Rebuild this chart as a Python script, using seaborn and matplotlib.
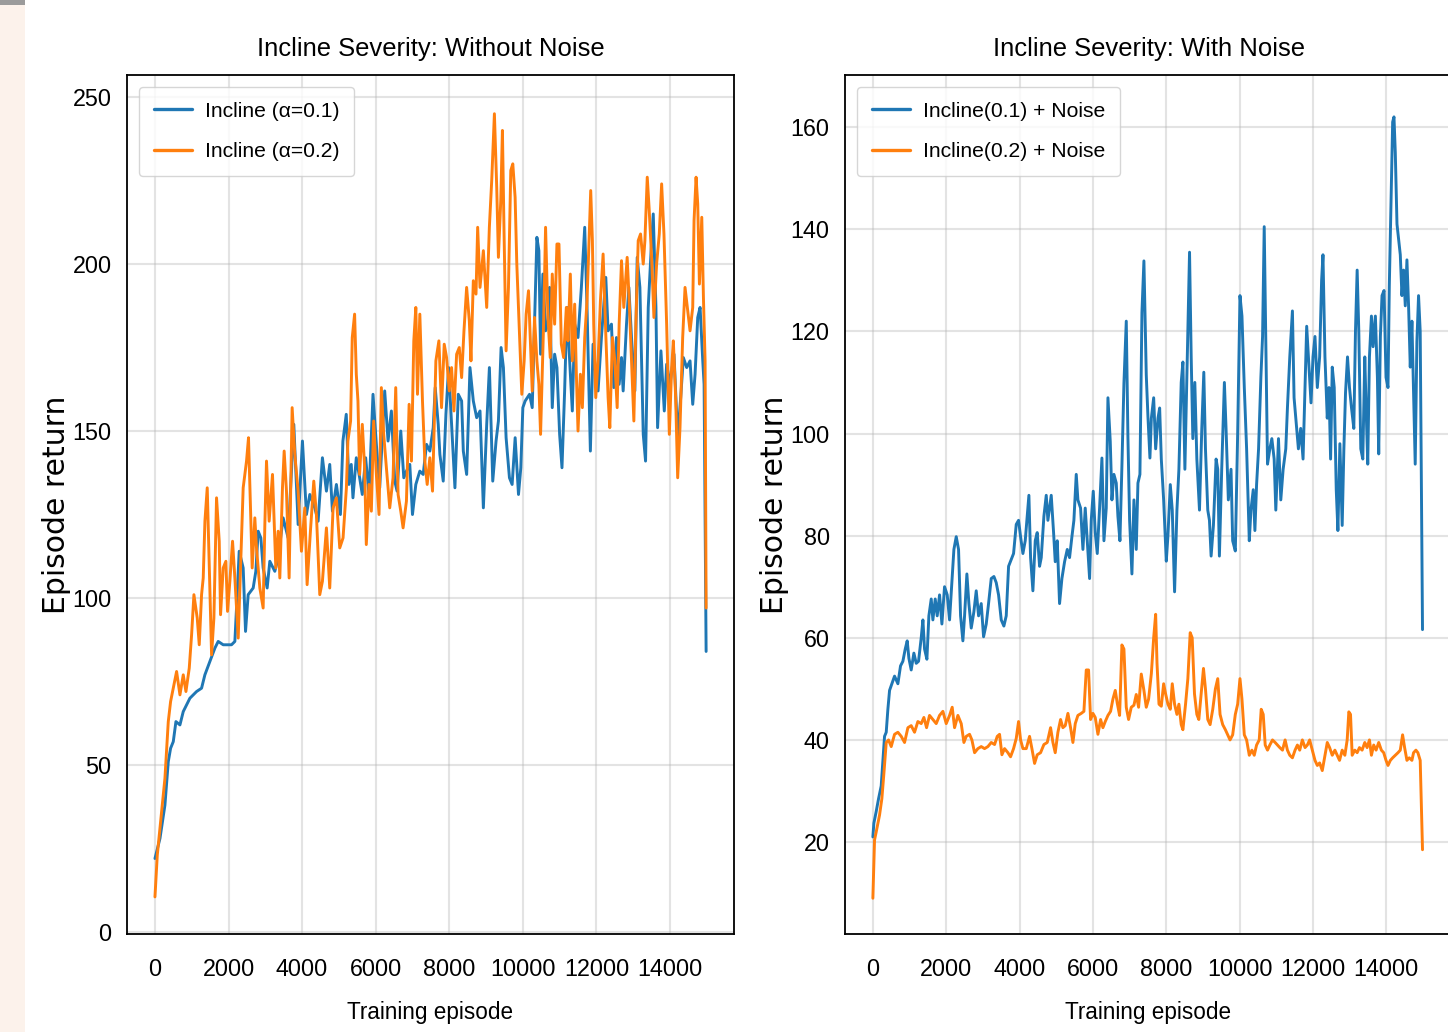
import matplotlib
matplotlib.use("Agg")
import matplotlib.pyplot as plt
from matplotlib import font_manager as fm
import seaborn as sns
import pandas as pd
from matplotlib.patches import Rectangle

# ---------------- data ----------------
left_blue_ep = [0, 136, 271, 362, 425, 498, 570, 679, 769, 950, 1131, 1267, 1357, 1493, 1629, 1719, 1855, 2081, 2172, 2235, 2290, 2398, 2462, 2534, 2670, 2742, 2806, 2878, 2941, 3050, 3122, 3258, 3349, 3484, 3620, 3774, 3892, 4009, 4118, 4209, 4344, 4435, 4552, 4661, 4751, 4824, 4932, 5041,
                5109, 5200, 5273, 5336, 5382, 5473, 5564, 5636, 5727, 5818, 5927, 6018, 6109, 6245, 6336, 6427, 6518, 6582, 6682, 6764, 6836, 6927, 7000, 7091, 7200, 7291, 7382, 7473, 7564, 7618, 7700, 7745, 7836, 7909, 7982, 8045, 8154, 8245, 8336, 8382, 8473, 8563, 8654, 8745, 8836, 8927, 9018, 9091, 9182, 9272, 9336, 9409, 9472, 9545, 9636, 9709, 9791, 9882, 9945, 10000, 10063,
                10182, 10255, 10318, 10382, 10436, 10482, 10545, 10618, 10682, 10727, 10800, 10864, 10927, 11000, 11064, 11136, 11200, 11273, 11345, 11409, 11500, 11591, 11682, 11745, 11836, 11909, 11982, 12045, 12136, 12255, 12318, 12409, 12473, 12545, 12618, 12682, 12727, 12818, 12882, 12954, 13045, 13109, 13182, 13273, 13336, 13409, 13482, 13545, 13618, 13663, 13754, 13845, 13909, 14000, 14109, 14209, 14291, 14363, 14454, 14545, 14618, 14682, 14754, 14818, 14891, 14927, 14982]
left_blue_val = [22, 28, 38, 51, 55, 57, 63, 62, 66, 70, 72, 73, 77, 81, 85, 87, 86, 86, 87, 101, 114, 109, 90, 101, 103, 108, 120, 118, 109, 103, 111, 108, 112, 124, 118, 152, 122, 147, 125, 131, 127, 123, 142, 132, 140, 126, 134, 125,
                 147, 155, 134, 140, 130, 142, 136, 131, 142, 131, 161, 146, 133, 162, 147, 156, 135, 132, 150, 136, 138, 140, 125, 134, 138, 137, 146, 144, 151, 163, 152, 143, 135, 155, 169, 156, 133, 161, 159, 144, 137, 169, 159, 154, 156, 127, 152, 169, 135, 147, 153, 175, 169, 148, 136, 134, 148, 131, 139, 157, 159,
                 161, 157, 182, 208, 204, 173, 197, 180, 182, 193, 157, 173, 169, 149, 139, 162, 187, 171, 156, 182, 178, 193, 211, 187, 144, 176, 167, 162, 178, 196, 180, 182, 163, 178, 164, 172, 162, 182, 193, 178, 162, 202, 193, 149, 141, 187, 203, 215, 187, 151, 174, 156, 170, 164, 173, 148, 160, 172, 169, 171, 158, 167, 184, 187, 171, 164, 84]

left_orange_ep = [0, 63, 181, 271, 362, 425, 498, 588, 679, 769, 842, 932, 996, 1059, 1149, 1204, 1267, 1312, 1358, 1421, 1475, 1539, 1602, 1674, 1747, 1783, 1855, 1928, 1973, 2036, 2109, 2172, 2263, 2326, 2398, 2489, 2543, 2597, 2643, 2715, 2760, 2851, 2941, 2987, 3032, 3104, 3195, 3285, 3349, 3394, 3466, 3512, 3575, 3647, 3729, 3801, 3892, 3982, 4073, 4136, 4226, 4317, 4389, 4480, 4552, 4661, 4751, 4842, 4932, 5023, 5113, 5204,
                  5245, 5318, 5363, 5427, 5473, 5518, 5563, 5636, 5700, 5745, 5818, 5882, 5945, 6018, 6091, 6154, 6218, 6291, 6382, 6472, 6545, 6609, 6682, 6745, 6836, 6909, 6972, 7036, 7091, 7136, 7200, 7272, 7336, 7400, 7472, 7545, 7636, 7718, 7790, 7863, 7927, 8000, 8063, 8127, 8200, 8272, 8336, 8400, 8472, 8545, 8590, 8654, 8727, 8772, 8836, 8927, 9018, 9090, 9154, 9227, 9290, 9336, 9400, 9445, 9490, 9545, 9609, 9672, 9727, 9790, 9836, 9909, 9972, 10036, 10090, 10154,
                  10255, 10318, 10382, 10436, 10482, 10564, 10618, 10682, 10745, 10800, 10864, 10927, 10982, 11046, 11109, 11182, 11227, 11291, 11345, 11409, 11455, 11500, 11564, 11618, 11682, 11745, 11800, 11845, 11891, 11927, 11982, 12045, 12109, 12182, 12255, 12318, 12364, 12436, 12500, 12564, 12618, 12682, 12745, 12836, 12891, 12954, 13018, 13073, 13136, 13200, 13273, 13318, 13382, 13436, 13500, 13563, 13636, 13709, 13773, 13836, 13909, 13982, 14045, 14091, 14154, 14209, 14272, 14345, 14409, 14472, 14545, 14618, 14654, 14709, 14754, 14800, 14864, 14909, 14954, 14982]
left_orange_val = [10.5, 23, 36, 46, 63, 69, 73, 78, 71, 77, 72, 79, 89, 101, 94, 86, 101, 106, 123, 133, 110, 83, 94, 130, 117, 95, 109, 111, 96, 105, 117, 106, 88, 109, 133, 141, 148, 127, 109, 124, 115, 103, 97, 122, 141, 123, 137, 109, 120, 106, 133, 144, 132, 106, 157, 143, 132, 114, 127, 104, 120, 135, 125, 101, 105, 121, 103, 127, 130, 115, 118, 133,
                   147, 153, 178, 185, 167, 159, 137, 152, 139, 116, 134, 126, 153, 137, 125, 163, 149, 139, 127, 136, 163, 131, 126, 121, 129, 158, 141, 177, 187, 161, 185, 159, 141, 134, 142, 132, 171, 177, 157, 176, 172, 162, 169, 156, 173, 175, 166, 180, 193, 183, 171, 195, 191, 211, 193, 204, 187, 211, 225, 245, 223, 202, 219, 240, 209, 174, 193, 228, 230, 220, 200, 179, 161, 171, 185, 192,
                   162, 184, 171, 164, 149, 182, 211, 184, 172, 197, 182, 206, 206, 176, 172, 187, 177, 197, 171, 188, 167, 150, 167, 157, 178, 189, 207, 222, 207, 182, 160, 171, 189, 203, 179, 160, 151, 178, 171, 157, 182, 201, 187, 202, 189, 171, 153, 182, 207, 209, 200, 207, 226, 216, 202, 184, 200, 209, 224, 209, 182, 149, 169, 177, 160, 136, 151, 178, 193, 187, 180, 187, 213, 226, 218, 194, 214, 190, 171, 97]

right_blue_ep = [0, 27, 91, 155, 227, 273, 318, 364, 409, 455, 518, 591, 682, 754, 818, 882, 936, 982, 1045, 1118, 1182, 1245, 1318, 1364, 1409, 1473, 1527, 1591, 1636, 1700, 1754, 1818, 1882, 1954, 2027, 2091, 2154, 2209, 2273, 2336, 2391, 2454, 2500, 2563, 2618, 2682, 2754, 2818, 2882, 2954, 3018, 3091, 3154, 3227, 3300, 3363, 3427, 3500, 3572, 3636, 3700, 3772, 3836, 3909, 3972, 4027, 4091, 4154, 4209, 4254, 4300, 4363, 4427, 4481, 4545, 4591, 4663, 4727, 4772, 4818, 4863, 4927, 4972, 5027, 5090, 5154, 5227, 5300, 5363, 5427, 5481, 5545, 5590, 5663, 5727, 5790, 5845, 5909, 5954, 6009, 6063, 6118, 6181, 6245, 6300, 6363, 6409, 6472, 6518, 6572, 6636, 6681, 6736, 6790, 6845, 6909, 6954, 7000, 7063, 7118, 7181, 7227, 7281, 7336, 7390, 7454, 7500, 7554,
                 7593, 7656, 7710, 7774, 7819, 7864, 7928, 8000, 8045, 8109, 8163, 8226, 8290, 8344, 8407, 8453, 8507, 8561, 8634, 8679, 8724, 8778, 8833, 8905, 8968, 9023, 9068, 9131, 9177, 9222, 9285, 9358, 9403, 9448, 9511, 9584, 9629, 9692, 9765, 9810, 9882, 9946, 10009, 10063, 10127, 10190, 10263, 10308, 10371, 10416, 10462, 10516, 10579, 10625, 10670, 10715, 10760, 10823, 10878, 10941, 10986, 11059, 11122, 11186, 11258, 11303, 11367, 11439, 11484, 11530, 11602, 11665, 11729, 11783, 11828, 11892, 11946, 12000, 12054, 12118, 12181, 12235, 12272, 12326, 12389, 12435, 12480, 12525, 12579, 12634, 12679, 12733, 12796, 12842, 12887, 12941, 12995, 13050, 13113, 13158, 13204, 13249, 13303, 13358, 13412, 13448, 13493, 13539, 13593, 13638, 13701, 13756, 13792, 13837, 13882, 13937, 13991, 14045, 14081, 14127, 14172, 14208, 14244, 14290, 14335, 14380, 14425, 14471, 14516, 14561, 14606, 14652, 14697, 14742, 14787, 14833, 14878, 14923, 14986]
right_blue_val = [21, 23.7, 26, 28.5, 31, 36, 40.7, 41.5, 46, 49.7, 51, 52.5, 51, 54.5, 55.4, 57.8, 59.4, 56, 53.7, 57, 55, 55.4, 60, 63.5, 57.8, 55.8, 64.3, 67.6, 63.5, 67.6, 64.3, 68.4, 62.7, 70, 68.4, 63.5, 70.9, 77.3, 79.8, 77.3, 64.3, 59.4, 64.3, 72.5, 66.7, 61.9, 65.1, 69.2, 64.3, 66.7, 60.2, 62.7, 66.7, 71.6, 72, 70.8, 68.4, 63.5, 62.3, 64.3, 74, 75.3, 76.5, 82.2, 83, 79.8, 76.5, 79, 83.8, 87.9, 75.7, 69.2, 79, 80.6, 74, 75.7, 83.8, 87.9, 83, 85.4, 87.9, 80.6, 74.9, 79, 66.7, 71.6, 74.9, 77.3, 75.7, 79.8, 83, 92, 87, 85.4, 77.3, 85.4, 79, 71.6, 83, 88.7, 80.6, 76.5, 85.4, 95.2, 79, 85.4, 107, 98.5, 87, 92, 90.3, 83.8, 79, 93.6, 109.8, 122, 99.3, 83, 72.5, 87, 77.3, 90.3, 92, 123.7, 133.8, 111.5, 103.3, 95.2,
                  103, 107, 97, 103, 105, 95, 87, 75, 80, 90, 85, 69, 85, 93, 110, 114, 93, 111, 135.5, 115, 99, 110, 95, 85, 101, 112, 97, 85, 83, 76, 82, 95, 93, 76, 93, 110, 101, 87, 93, 79, 77, 100, 127, 123, 109, 97, 79, 85, 89, 81, 90, 97, 111, 119, 140.5, 118, 94, 97, 99, 95, 85, 99, 87, 93, 97, 105, 115, 124, 107, 103, 97, 101, 95, 109, 121, 113, 106, 115, 119, 109, 115, 130, 135, 115, 103, 109, 95, 113, 109, 89, 81, 98, 82, 97, 108, 115, 109, 105, 101, 120, 132, 120, 97, 95, 115, 105, 94, 115, 123, 117, 123, 111, 96, 119, 127, 128, 111, 109, 129, 145, 161, 162, 155, 141, 138, 135, 127, 132, 125, 134, 125, 113, 122, 108, 94, 118, 127, 120, 61.6]

right_orange_ep = [0, 45, 91, 182, 245, 300, 364, 427, 500, 591, 682, 773, 864, 955, 1045, 1136, 1227, 1318, 1391, 1464, 1545, 1636, 1727, 1818, 1909, 2000, 2091, 2163, 2227, 2318, 2409, 2482, 2545, 2636, 2700, 2773, 2863, 2954, 3045, 3136, 3227, 3318, 3391, 3454, 3518, 3591, 3682, 3754, 3836, 3909, 3972, 4027, 4091, 4182, 4272, 4336, 4409, 4481, 4572, 4663, 4754, 4845, 4909, 4972, 5045, 5118, 5181, 5245, 5318, 5390, 5454, 5518, 5590, 5681, 5754, 5818, 5881, 5936, 6000, 6063, 6136, 6209, 6272, 6336, 6409, 6481, 6545, 6609, 6663, 6727, 6790, 6845, 6909, 6972, 7045, 7118, 7181, 7245, 7318, 7390, 7454, 7518,
                   7593, 7656, 7710, 7747, 7801, 7864, 7928, 7982, 8045, 8109, 8163, 8226, 8290, 8344, 8407, 8453, 8525, 8588, 8652, 8706, 8769, 8833, 8887, 8950, 9014, 9068, 9131, 9195, 9267, 9339, 9403, 9466, 9538, 9611, 9674, 9738, 9810, 9882, 9946, 10009, 10063, 10127, 10190, 10263, 10335, 10398, 10462, 10534, 10588, 10643, 10697, 10760, 10823, 10896, 10968, 11032, 11095, 11168, 11240, 11303, 11367, 11439, 11511, 11575, 11638, 11710, 11783, 11846, 11909, 11982, 12054, 12118, 12181, 12253, 12326, 12389, 12453, 12525, 12597, 12661, 12724, 12796, 12869, 12932, 12977, 13023, 13068, 13140, 13204, 13267, 13339, 13412, 13475, 13539, 13593, 13656, 13720, 13792, 13864, 13928, 13991, 14045, 14109, 14172, 14244, 14317, 14380, 14443, 14498, 14561, 14624, 14697, 14742, 14806, 14860, 14923, 14986]
right_orange_val = [9, 20.4, 22, 25.3, 28.5, 33.4, 39.5, 40, 38.7, 41.1, 41.5, 40.7, 39.5, 42.4, 42.8, 41.5, 43.6, 43.2, 44.4, 42.4, 44.8, 44, 43.2, 44.8, 45.6, 43.2, 44.8, 46.4, 42.4, 44.8, 43.2, 39.5, 40.7, 41.1, 40, 37.5, 38.3, 38.7, 38.3, 38.7, 39.5, 39.1, 40.7, 41.1, 37.1, 38.3, 37.5, 36.7, 38.3, 40.3, 43.6, 40, 38.3, 38.3, 40.7, 38.3, 35.4, 37.1, 37.5, 39.1, 39.5, 42.4, 39.5, 37.5, 41.5, 44, 42.4, 42.8, 45.2, 42.4, 39.5, 43.2, 44.8, 45.2, 45.6, 53.7, 53.7, 44, 45.2, 44.4, 41.1, 44, 42.4, 43.6, 44.8, 45.6, 48, 49.7, 47.2, 44.8, 58.6, 57.8, 46.4, 44, 46.4, 46.8, 48.9, 46.4, 52.9, 49.7, 46.4, 48,
                    53, 60, 64.6, 55, 47, 46.6, 51, 49, 47, 46, 51, 47, 45, 47, 43, 42, 47, 52, 61, 60, 49, 45, 44, 49, 54, 50, 44, 43, 46, 50, 52, 45, 43, 42, 41, 40, 41, 45, 47, 52, 48, 41, 40, 37, 38, 37, 39, 40, 46, 45, 39, 38, 39, 40, 39.5, 39, 38.5, 38, 40, 38, 37, 36.5, 38, 39, 38, 40, 38.5, 39, 40, 38, 36, 35, 35.5, 34, 37, 39.5, 38.5, 37, 38, 37, 36, 38, 37, 40, 45.5, 45, 37, 38, 37.5, 38.5, 38, 39.5, 38.5, 40, 37, 39, 38, 39.5, 38, 37.5, 36, 35, 36, 36.5, 37, 37.5, 38, 41, 38.5, 36, 36.5, 36, 37.5, 38, 37.5, 36, 18.5]

left_title = "Incline Severity: Without Noise"
right_title = "Incline Severity: With Noise"
left_labels = ["Incline (α=0.1)", "Incline (α=0.2)"]
right_labels = ["Incline(0.1) + Noise", "Incline(0.2) + Noise"]
x_label = "Training episode"
y_label = "Episode return"
x_ticks = [0, 2000, 4000, 6000, 8000, 10000, 12000, 14000]
left_yticks = [0, 50, 100, 150, 200, 250]
right_yticks = [20, 40, 60, 80, 100, 120, 140, 160]

# ---------------- fonts: narrow face if present, else Liberation Sans ----------------
_avail = {f.name for f in fm.fontManager.ttflist}
if 'Liberation Sans Narrow' in _avail:
    FAM, SC = 'Liberation Sans Narrow', 1.0
else:
    FAM, SC = 'Liberation Sans', 0.82

sns.set_style("white")
plt.rcParams['font.family'] = [FAM, 'DejaVu Sans']
plt.rcParams['axes.edgecolor'] = 'black'
plt.rcParams['axes.linewidth'] = 1.3
plt.rcParams['text.color'] = 'black'
plt.rcParams['axes.labelcolor'] = 'black'
plt.rcParams['xtick.color'] = 'black'
plt.rcParams['ytick.color'] = 'black'

TICK_FS = 20.5 * SC
TITLE_FS = 22.5 * SC
XLAB_FS = 19.8 * SC
LEG_FS = 18.6 * SC

BLUE = '#1f77b4'
ORANGE = '#ff7f0e'

W, H = 1448, 1032
fig = plt.figure(figsize=(W / 100, H / 100), dpi=100)
fig.patch.set_facecolor('white')

# screenshot edge strip on the left
fig.patches.append(Rectangle((0, 0), 25 / W, 1, transform=fig.transFigure,
                             facecolor='#fcf2eb', edgecolor='none', zorder=0))
fig.patches.append(Rectangle((0, 1 - 5 / H), 25 / W, 5 / H, transform=fig.transFigure,
                             facecolor='#9b9b9b', edgecolor='none', zorder=1))

ax1 = fig.add_axes([127 / W, 98 / H, 607 / W, 859 / H])
ax2 = fig.add_axes([845 / W, 98 / H, 607 / W, 859 / H])

df_lb = pd.DataFrame({'ep': left_blue_ep, 'val': left_blue_val})
df_lo = pd.DataFrame({'ep': left_orange_ep, 'val': left_orange_val})
df_rb = pd.DataFrame({'ep': right_blue_ep, 'val': right_blue_val})
df_ro = pd.DataFrame({'ep': right_orange_ep, 'val': right_orange_val})

LW = 2.1
sns.lineplot(data=df_lb, x='ep', y='val', ax=ax1, color=BLUE, lw=LW,
             label=left_labels[0], estimator=None, sort=False)
sns.lineplot(data=df_lo, x='ep', y='val', ax=ax1, color=ORANGE, lw=LW,
             label=left_labels[1], estimator=None, sort=False)
sns.lineplot(data=df_rb, x='ep', y='val', ax=ax2, color=BLUE, lw=LW,
             label=right_labels[0], estimator=None, sort=False)
sns.lineplot(data=df_ro, x='ep', y='val', ax=ax2, color=ORANGE, lw=LW,
             label=right_labels[1], estimator=None, sort=False)

ax1.set_xlim(-760, 15740)
ax1.set_ylim(-0.6, 256.6)
ax2.set_xlim(-760, 15790)
ax2.set_ylim(2.0, 170.2)
ax1.set_yticks(left_yticks)
ax2.set_yticks(right_yticks)

for ax, title in ((ax1, left_title), (ax2, right_title)):
    ax.set_xticks(x_ticks)
    ax.set_title(title, fontsize=TITLE_FS, pad=14, color='black')
    ax.set_xlabel(x_label, fontsize=XLAB_FS, labelpad=15, color='black')
    ax.set_ylabel(y_label, fontsize=21.5, family='DejaVu Sans', labelpad=1,
                  color='black')
    ax.grid(True, color='#b0b0b0', alpha=0.35, linewidth=1.5)
    ax.tick_params(axis='both', labelsize=TICK_FS, length=7, width=1.3,
                   direction='out', colors='black', labelcolor='black')
    ax.tick_params(axis='x', pad=10)
    ax.tick_params(axis='y', pad=4)
    for s in ax.spines.values():
        s.set_visible(True)
        s.set_color('black')
        s.set_linewidth(1.3)
    leg = ax.legend(loc='upper left', fontsize=LEG_FS, handlelength=1.8,
                    handletextpad=0.6, labelspacing=1.0, borderpad=0.72,
                    frameon=True, fancybox=True, framealpha=0.8,
                    edgecolor='#cccccc', borderaxespad=0.55)
    for t in leg.get_texts():
        t.set_color('black')
    for line in leg.get_lines():
        line.set_linewidth(2.4)

fig.savefig('out.png', dpi=100, facecolor=fig.get_facecolor())
